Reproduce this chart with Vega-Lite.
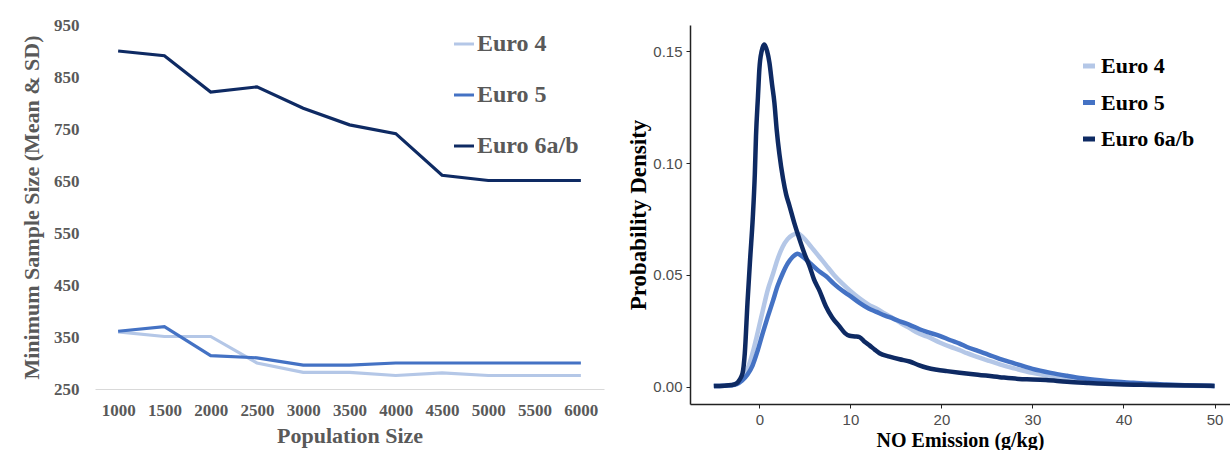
{
  "$schema": "https://vega.github.io/schema/vega-lite/v6.json",
  "background": "white",
  "padding": {"left": 20, "top": 16, "right": 0, "bottom": 0},
  "config": {"view": {"stroke": null}},
  "datasets": {
    "left": [
      {"pop": 1000, "series": "Euro 4", "n": 360}, {"pop": 1500, "series": "Euro 4", "n": 351}, {"pop": 2000, "series": "Euro 4", "n": 351}, {"pop": 2500, "series": "Euro 4", "n": 300}, {"pop": 3000, "series": "Euro 4", "n": 282}, {"pop": 3500, "series": "Euro 4", "n": 282}, {"pop": 4000, "series": "Euro 4", "n": 276}, {"pop": 4500, "series": "Euro 4", "n": 281}, {"pop": 5000, "series": "Euro 4", "n": 276}, {"pop": 5500, "series": "Euro 4", "n": 276}, {"pop": 6000, "series": "Euro 4", "n": 276},
      {"pop": 1000, "series": "Euro 5", "n": 361}, {"pop": 1500, "series": "Euro 5", "n": 370}, {"pop": 2000, "series": "Euro 5", "n": 314}, {"pop": 2500, "series": "Euro 5", "n": 310}, {"pop": 3000, "series": "Euro 5", "n": 296}, {"pop": 3500, "series": "Euro 5", "n": 296}, {"pop": 4000, "series": "Euro 5", "n": 300}, {"pop": 4500, "series": "Euro 5", "n": 300}, {"pop": 5000, "series": "Euro 5", "n": 300}, {"pop": 5500, "series": "Euro 5", "n": 300}, {"pop": 6000, "series": "Euro 5", "n": 300},
      {"pop": 1000, "series": "Euro 6a/b", "n": 900}, {"pop": 1500, "series": "Euro 6a/b", "n": 891}, {"pop": 2000, "series": "Euro 6a/b", "n": 821}, {"pop": 2500, "series": "Euro 6a/b", "n": 831}, {"pop": 3000, "series": "Euro 6a/b", "n": 790}, {"pop": 3500, "series": "Euro 6a/b", "n": 758}, {"pop": 4000, "series": "Euro 6a/b", "n": 741}, {"pop": 4500, "series": "Euro 6a/b", "n": 661}, {"pop": 5000, "series": "Euro 6a/b", "n": 651}, {"pop": 5500, "series": "Euro 6a/b", "n": 651}, {"pop": 6000, "series": "Euro 6a/b", "n": 651}
    ],
    "right": [
      {"series": "Euro 4", "x": -5, "d": 0.0003}, {"series": "Euro 4", "x": -3, "d": 0.0008}, {"series": "Euro 4", "x": -2.5, "d": 0.0015}, {"series": "Euro 4", "x": -1.9, "d": 0.004}, {"series": "Euro 4", "x": -1.3, "d": 0.008}, {"series": "Euro 4", "x": -0.75, "d": 0.015}, {"series": "Euro 4", "x": -0.2, "d": 0.024}, {"series": "Euro 4", "x": 0.37, "d": 0.034}, {"series": "Euro 4", "x": 0.9, "d": 0.043}, {"series": "Euro 4", "x": 1.5, "d": 0.0505}, {"series": "Euro 4", "x": 2, "d": 0.057}, {"series": "Euro 4", "x": 2.55, "d": 0.0625}, {"series": "Euro 4", "x": 3.1, "d": 0.066}, {"series": "Euro 4", "x": 3.65, "d": 0.0678}, {"series": "Euro 4", "x": 4.2, "d": 0.0685}, {"series": "Euro 4", "x": 4.8, "d": 0.0668}, {"series": "Euro 4", "x": 5.5, "d": 0.0635}, {"series": "Euro 4", "x": 6.6, "d": 0.058}, {"series": "Euro 4", "x": 7.3, "d": 0.0545}, {"series": "Euro 4", "x": 8.2, "d": 0.05}, {"series": "Euro 4", "x": 9.1, "d": 0.0462}, {"series": "Euro 4", "x": 10, "d": 0.0428}, {"series": "Euro 4", "x": 11, "d": 0.0395}, {"series": "Euro 4", "x": 12, "d": 0.0367}, {"series": "Euro 4", "x": 12.85, "d": 0.035}, {"series": "Euro 4", "x": 13.8, "d": 0.0327}, {"series": "Euro 4", "x": 14.7, "d": 0.0306}, {"series": "Euro 4", "x": 15.6, "d": 0.0283}, {"series": "Euro 4", "x": 16.5, "d": 0.0262}, {"series": "Euro 4", "x": 17.6, "d": 0.0237}, {"series": "Euro 4", "x": 18.4, "d": 0.0225}, {"series": "Euro 4", "x": 19.8, "d": 0.0198}, {"series": "Euro 4", "x": 21, "d": 0.0178}, {"series": "Euro 4", "x": 22, "d": 0.0164}, {"series": "Euro 4", "x": 22.8, "d": 0.015}, {"series": "Euro 4", "x": 24, "d": 0.0133}, {"series": "Euro 4", "x": 25.2, "d": 0.0116}, {"series": "Euro 4", "x": 26.4, "d": 0.01}, {"series": "Euro 4", "x": 28, "d": 0.0082}, {"series": "Euro 4", "x": 30, "d": 0.0062}, {"series": "Euro 4", "x": 32, "d": 0.0047}, {"series": "Euro 4", "x": 33.8, "d": 0.0036}, {"series": "Euro 4", "x": 35.5, "d": 0.0028}, {"series": "Euro 4", "x": 37.4, "d": 0.0022}, {"series": "Euro 4", "x": 39.3, "d": 0.0015}, {"series": "Euro 4", "x": 41.1, "d": 0.0011}, {"series": "Euro 4", "x": 43, "d": 0.0008}, {"series": "Euro 4", "x": 45, "d": 0.0006}, {"series": "Euro 4", "x": 50, "d": 0.0003},
      {"series": "Euro 5", "x": -5, "d": 0.0003}, {"series": "Euro 5", "x": -3, "d": 0.0007}, {"series": "Euro 5", "x": -2.5, "d": 0.0012}, {"series": "Euro 5", "x": -1.9, "d": 0.0028}, {"series": "Euro 5", "x": -1.3, "d": 0.0055}, {"series": "Euro 5", "x": -0.75, "d": 0.0095}, {"series": "Euro 5", "x": -0.2, "d": 0.016}, {"series": "Euro 5", "x": 0.37, "d": 0.024}, {"series": "Euro 5", "x": 0.9, "d": 0.031}, {"series": "Euro 5", "x": 1.5, "d": 0.0385}, {"series": "Euro 5", "x": 2, "d": 0.045}, {"series": "Euro 5", "x": 2.55, "d": 0.0505}, {"series": "Euro 5", "x": 3.1, "d": 0.055}, {"series": "Euro 5", "x": 3.65, "d": 0.058}, {"series": "Euro 5", "x": 4.2, "d": 0.0595}, {"series": "Euro 5", "x": 4.8, "d": 0.058}, {"series": "Euro 5", "x": 5.5, "d": 0.0555}, {"series": "Euro 5", "x": 6.6, "d": 0.0515}, {"series": "Euro 5", "x": 7.3, "d": 0.0495}, {"series": "Euro 5", "x": 8.2, "d": 0.046}, {"series": "Euro 5", "x": 9.1, "d": 0.043}, {"series": "Euro 5", "x": 10, "d": 0.0405}, {"series": "Euro 5", "x": 11, "d": 0.0375}, {"series": "Euro 5", "x": 12, "d": 0.035}, {"series": "Euro 5", "x": 12.85, "d": 0.0335}, {"series": "Euro 5", "x": 13.8, "d": 0.0318}, {"series": "Euro 5", "x": 14.7, "d": 0.0305}, {"series": "Euro 5", "x": 15.6, "d": 0.029}, {"series": "Euro 5", "x": 16.5, "d": 0.0277}, {"series": "Euro 5", "x": 17.6, "d": 0.0257}, {"series": "Euro 5", "x": 18.4, "d": 0.0245}, {"series": "Euro 5", "x": 19.8, "d": 0.0228}, {"series": "Euro 5", "x": 21, "d": 0.0208}, {"series": "Euro 5", "x": 22, "d": 0.0193}, {"series": "Euro 5", "x": 22.8, "d": 0.0178}, {"series": "Euro 5", "x": 24, "d": 0.016}, {"series": "Euro 5", "x": 25.2, "d": 0.0143}, {"series": "Euro 5", "x": 26.4, "d": 0.0125}, {"series": "Euro 5", "x": 28, "d": 0.0105}, {"series": "Euro 5", "x": 30, "d": 0.008}, {"series": "Euro 5", "x": 32, "d": 0.0062}, {"series": "Euro 5", "x": 33.8, "d": 0.0049}, {"series": "Euro 5", "x": 35.5, "d": 0.0038}, {"series": "Euro 5", "x": 37.4, "d": 0.0029}, {"series": "Euro 5", "x": 39.3, "d": 0.0022}, {"series": "Euro 5", "x": 41.1, "d": 0.0018}, {"series": "Euro 5", "x": 43, "d": 0.0013}, {"series": "Euro 5", "x": 44.8, "d": 0.001}, {"series": "Euro 5", "x": 47, "d": 0.0007}, {"series": "Euro 5", "x": 50, "d": 0.0004},
      {"series": "Euro 6a/b", "x": -5, "d": 0.0003}, {"series": "Euro 6a/b", "x": -3, "d": 0.0008}, {"series": "Euro 6a/b", "x": -2.5, "d": 0.0015}, {"series": "Euro 6a/b", "x": -2.2, "d": 0.003}, {"series": "Euro 6a/b", "x": -1.85, "d": 0.006}, {"series": "Euro 6a/b", "x": -1.6, "d": 0.015}, {"series": "Euro 6a/b", "x": -1.3, "d": 0.038}, {"series": "Euro 6a/b", "x": -1.0, "d": 0.058}, {"series": "Euro 6a/b", "x": -0.73, "d": 0.075}, {"series": "Euro 6a/b", "x": -0.5, "d": 0.095}, {"series": "Euro 6a/b", "x": -0.37, "d": 0.112}, {"series": "Euro 6a/b", "x": -0.15, "d": 0.13}, {"series": "Euro 6a/b", "x": 0, "d": 0.142}, {"series": "Euro 6a/b", "x": 0.25, "d": 0.15}, {"series": "Euro 6a/b", "x": 0.55, "d": 0.153}, {"series": "Euro 6a/b", "x": 0.85, "d": 0.15}, {"series": "Euro 6a/b", "x": 1.1, "d": 0.145}, {"series": "Euro 6a/b", "x": 1.4, "d": 0.135}, {"series": "Euro 6a/b", "x": 1.65, "d": 0.127}, {"series": "Euro 6a/b", "x": 1.9, "d": 0.115}, {"series": "Euro 6a/b", "x": 2.2, "d": 0.104}, {"series": "Euro 6a/b", "x": 2.6, "d": 0.093}, {"series": "Euro 6a/b", "x": 2.94, "d": 0.086}, {"series": "Euro 6a/b", "x": 3.3, "d": 0.081}, {"series": "Euro 6a/b", "x": 3.85, "d": 0.073}, {"series": "Euro 6a/b", "x": 4.4, "d": 0.066}, {"series": "Euro 6a/b", "x": 5, "d": 0.059}, {"series": "Euro 6a/b", "x": 5.5, "d": 0.054}, {"series": "Euro 6a/b", "x": 6, "d": 0.048}, {"series": "Euro 6a/b", "x": 6.6, "d": 0.043}, {"series": "Euro 6a/b", "x": 7.3, "d": 0.036}, {"series": "Euro 6a/b", "x": 8, "d": 0.031}, {"series": "Euro 6a/b", "x": 8.8, "d": 0.027}, {"series": "Euro 6a/b", "x": 9.4, "d": 0.024}, {"series": "Euro 6a/b", "x": 9.9, "d": 0.0228}, {"series": "Euro 6a/b", "x": 10.5, "d": 0.0225}, {"series": "Euro 6a/b", "x": 11, "d": 0.0222}, {"series": "Euro 6a/b", "x": 11.6, "d": 0.02}, {"series": "Euro 6a/b", "x": 12.1, "d": 0.0185}, {"series": "Euro 6a/b", "x": 12.7, "d": 0.0165}, {"series": "Euro 6a/b", "x": 13.2, "d": 0.015}, {"series": "Euro 6a/b", "x": 14.3, "d": 0.0135}, {"series": "Euro 6a/b", "x": 15.4, "d": 0.0123}, {"series": "Euro 6a/b", "x": 16.5, "d": 0.0113}, {"series": "Euro 6a/b", "x": 17.5, "d": 0.0097}, {"series": "Euro 6a/b", "x": 18.4, "d": 0.0085}, {"series": "Euro 6a/b", "x": 19.5, "d": 0.0076}, {"series": "Euro 6a/b", "x": 20.6, "d": 0.007}, {"series": "Euro 6a/b", "x": 22, "d": 0.0063}, {"series": "Euro 6a/b", "x": 24, "d": 0.0054}, {"series": "Euro 6a/b", "x": 26.4, "d": 0.0043}, {"series": "Euro 6a/b", "x": 28.5, "d": 0.0035}, {"series": "Euro 6a/b", "x": 30, "d": 0.0033}, {"series": "Euro 6a/b", "x": 31.5, "d": 0.003}, {"series": "Euro 6a/b", "x": 33.8, "d": 0.0022}, {"series": "Euro 6a/b", "x": 36, "d": 0.0017}, {"series": "Euro 6a/b", "x": 39.3, "d": 0.0011}, {"series": "Euro 6a/b", "x": 42, "d": 0.0009}, {"series": "Euro 6a/b", "x": 45, "d": 0.0007}, {"series": "Euro 6a/b", "x": 50, "d": 0.0004}
    ]
  },
  "hconcat": [
    {
      "width": 509,
      "height": 364,
      "data": {"name": "left"},
      "mark": {"type": "line", "strokeWidth": 3.2},
      "encoding": {
        "x": {
          "field": "pop", "type": "ordinal", "sort": "ascending",
          "scale": {"type": "point", "padding": 0.5},
          "axis": {
            "title": "Population Size", "labelAngle": 0, "ticks": false,
            "domain": true, "domainColor": "#d9d9d9", "domainWidth": 1,
            "labelFont": "Liberation Serif", "labelFontWeight": "bold", "labelFontSize": 17, "labelColor": "#595959", "labelPadding": 13,
            "titleFont": "Liberation Serif", "titleFontWeight": "bold", "titleFontSize": 22, "titleColor": "#595959", "titlePadding": 7
          }
        },
        "y": {
          "field": "n", "type": "quantitative",
          "scale": {"domain": [250, 950], "nice": false, "zero": false},
          "axis": {
            "title": "Minimum Sample Size (Mean & SD)", "values": [250, 350, 450, 550, 650, 750, 850, 950],
            "grid": false, "ticks": false, "domain": false,
            "labelFont": "Liberation Serif", "labelFontWeight": "bold", "labelFontSize": 17, "labelColor": "#595959", "labelPadding": 16,
            "titleFont": "Liberation Serif", "titleFontWeight": "bold", "titleFontSize": 22, "titleColor": "#595959", "titlePadding": 10
          }
        },
        "color": {
          "field": "series", "type": "nominal",
          "scale": {"domain": ["Euro 4", "Euro 5", "Euro 6a/b"], "range": ["#b4c7e7", "#4472c4", "#0e2a63"]},
          "legend": {
            "title": null, "orient": "none", "legendX": 357, "legendY": 7,
            "symbolType": "stroke", "symbolSize": 400, "symbolStrokeWidth": 3,
            "labelFont": "Liberation Serif", "labelFontWeight": "bold", "labelFontSize": 24, "labelColor": "#595959",
            "labelOffset": 1, "rowPadding": 27
          }
        }
      }
    },
    {
      "width": 540,
      "height": 379,
      "data": {"name": "right"},
      "mark": {"type": "line", "strokeWidth": 4.5, "interpolate": "monotone"},
      "encoding": {
        "x": {
          "field": "x", "type": "quantitative",
          "scale": {"domain": [-7.62, 51.7], "nice": false, "zero": false},
          "axis": {
            "title": "NO Emission (g/kg)", "values": [0, 10, 20, 30, 40, 50], "grid": false,
            "domainColor": "#222222", "domainWidth": 1.5, "tickColor": "#222222", "tickSize": 4, "tickWidth": 1,
            "labelFont": "Liberation Sans Narrow, Liberation Sans, sans-serif", "labelFontSize": 15, "labelColor": "#4d4d4d", "labelPadding": 4,
            "titleFont": "Liberation Serif", "titleFontWeight": "bold", "titleFontSize": 20, "titleColor": "black", "titlePadding": 3
          }
        },
        "y": {
          "field": "d", "type": "quantitative",
          "scale": {"domain": [-0.0077, 0.1617], "nice": false, "zero": false},
          "axis": {
            "title": "Probability Density", "values": [0, 0.05, 0.1, 0.15], "format": ".2f", "grid": false,
            "domainColor": "#222222", "domainWidth": 1.5, "tickColor": "#222222", "tickSize": 4, "tickWidth": 1,
            "labelFont": "Liberation Sans Narrow, Liberation Sans, sans-serif", "labelFontSize": 15, "labelColor": "#4d4d4d", "labelPadding": 4,
            "titleFont": "Liberation Serif", "titleFontWeight": "bold", "titleFontSize": 23, "titleColor": "black", "titlePadding": 2
          }
        },
        "color": {
          "field": "series", "type": "nominal",
          "scale": {"domain": ["Euro 4", "Euro 5", "Euro 6a/b"], "range": ["#b4c7e7", "#4472c4", "#0e2a63"]},
          "legend": {
            "title": null, "orient": "none", "legendX": 388, "legendY": 30,
            "symbolType": "stroke", "symbolSize": 144, "symbolStrokeWidth": 5,
            "labelFont": "Liberation Serif", "labelFontWeight": "bold", "labelFontSize": 22, "labelColor": "black",
            "labelOffset": 1, "rowPadding": 14.5
          }
        }
      }
    }
  ],
  "spacing": 23,
  "resolve": {"scale": {"color": "independent", "x": "independent", "y": "independent"}, "legend": {"color": "independent"}}
}
